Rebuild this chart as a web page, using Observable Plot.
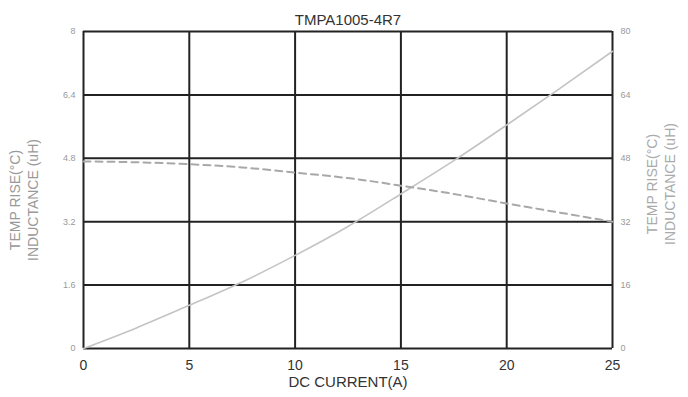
<!DOCTYPE html>
<html>
<head>
<meta charset="utf-8">
<script src="https://cdn.jsdelivr.net/npm/d3@7"></script>
<script src="https://cdn.jsdelivr.net/npm/@observablehq/plot@0.6"></script>
<style>
  html, body { margin: 0; padding: 0; background: #fff; }
  #chart svg { display: block; }
</style>
</head>
<body>
<div id="chart"></div>
<script>
// Data
const current = [0, 2.5, 5, 7.5, 10, 12.5, 15, 17.5, 20, 22.5, 25];
const inductance = [4.72, 4.70, 4.65, 4.57, 4.44, 4.30, 4.11, 3.90, 3.66, 3.43, 3.20]; // uH (left axis)
const tempRise = [0, 5.2, 10.9, 16.8, 23.5, 30.8, 39.0, 47.4, 56.4, 65.6, 75];          // °C (right axis)
const xTicks = [0, 5, 10, 15, 20, 25];
const leftTicks = [0, 1.6, 3.2, 4.8, 6.4, 8];
const rightTicks = [0, 16, 32, 48, 64, 80];
const title = "TMPA1005-4R7";
const xLabel = "DC CURRENT(A)";
const yLabelLines = ["TEMP RISE(°C)", "INDUCTANCE (uH)"];

const tempScale = 80 / 8; // right axis value per left axis unit
const indData = current.map((c, i) => ({x: c, y: inductance[i]}));
const tempData = current.map((c, i) => ({x: c, y: tempRise[i] / tempScale}));

const font = "'Liberation Sans', Arial, sans-serif";

const chart = Plot.plot({
  width: 688,
  height: 397,
  marginLeft: 83,
  marginRight: 76,
  marginTop: 31,
  marginBottom: 49,
  style: {fontFamily: font, background: "#fff"},
  x: {domain: [0, 25]},
  y: {domain: [0, 8]},
  marks: [
    // grid
    Plot.ruleX(xTicks, {stroke: "#222", strokeWidth: 2}),
    Plot.ruleY(leftTicks, {stroke: "#222", strokeWidth: 2}),
    // curves
    Plot.line(tempData, {x: "x", y: "y", stroke: "#c4c4c4", strokeWidth: 1.6, curve: "natural"}),
    Plot.line(indData, {x: "x", y: "y", stroke: "#a8a8a8", strokeWidth: 2, strokeDasharray: "7,5", curve: "natural"}),
    // axes
    Plot.axisX({ticks: xTicks, tickSize: 0, tickPadding: 12, fontSize: 14, fill: "#333", label: null}),
    Plot.axisY({ticks: leftTicks, anchor: "left", tickSize: 0, tickPadding: 8, fontSize: 9, fill: "#999", label: null, tickFormat: d => String(d)}),
    Plot.axisY({ticks: leftTicks, anchor: "right", tickSize: 0, tickPadding: 8, fontSize: 9, fill: "#999", label: null, tickFormat: (d, i) => String(rightTicks[i])}),
    // title
    Plot.text([title], {frameAnchor: "top", dy: -17, fontSize: 15, fill: "#333", text: d => d}),
    // x label
    Plot.text([xLabel], {frameAnchor: "bottom", dy: 38, fontSize: 15, fill: "#333", text: d => d, style: {letterSpacing: "0.5px"}}),
    // left y labels
    Plot.text([yLabelLines[0]], {frameAnchor: "left", textAnchor: "middle", dx: -68, dy: 10, rotate: -90, fontSize: 14, fill: "#999", text: d => d}),
    Plot.text([yLabelLines[1]], {frameAnchor: "left", textAnchor: "middle", dx: -50, dy: 10, rotate: -90, fontSize: 14, fill: "#999", text: d => d}),
    // right y labels
    Plot.text([yLabelLines[0]], {frameAnchor: "right", textAnchor: "middle", dx: 40, dy: -6, rotate: -90, fontSize: 14, fill: "#aaa", text: d => d}),
    Plot.text([yLabelLines[1]], {frameAnchor: "right", textAnchor: "middle", dx: 58, dy: -6, rotate: -90, fontSize: 14, fill: "#aaa", text: d => d})
  ]
});
document.getElementById("chart").appendChild(chart);
</script>
</body>
</html>
